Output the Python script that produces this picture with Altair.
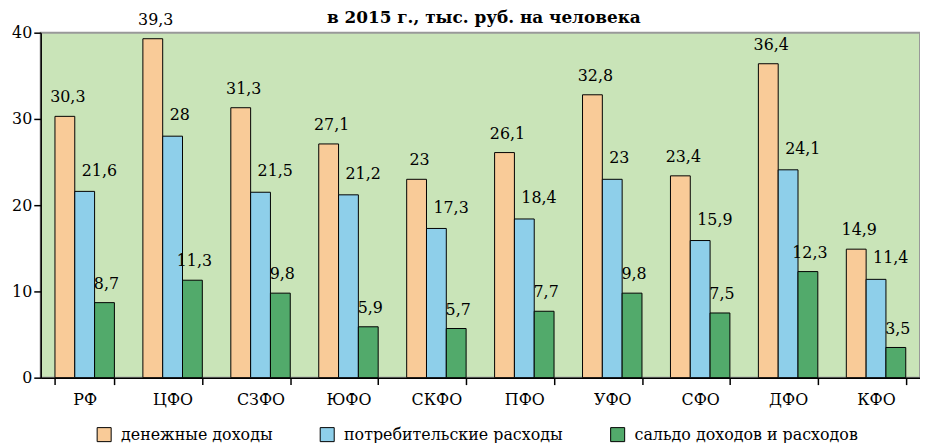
import altair as alt
import pandas as pd

regions = ["РФ", "ЦФО", "СЗФО", "ЮФО", "СКФО", "ПФО", "УФО", "СФО", "ДФО", "КФО"]
income = [30.3, 39.3, 31.3, 27.1, 23.0, 26.1, 32.8, 23.4, 36.4, 14.9]
spending = [21.6, 28.0, 21.5, 21.2, 17.3, 18.4, 23.0, 15.9, 24.1, 11.4]
balance = [8.7, 11.3, 9.8, 5.9, 5.7, 7.7, 9.8, 7.5, 12.3, 3.5]
series = ["денежные доходы", "потребительские расходы", "сальдо доходов и расходов"]
colors = ["#F9CB98", "#8ECFEA", "#52AA6B"]
title_text = "в 2015 г., тыс. руб. на человека"
y_ticks = [0, 10, 20, 30, 40]

rows = []
for i, r in enumerate(regions):
    for s, vals in zip(series, [income, spending, balance]):
        v = vals[i]
        rows.append({"region": r, "series": s, "value": v,
                     "label": f"{v:g}".replace(".", ",")})
df = pd.DataFrame(rows)

FONT = "DejaVu Serif"
FS = 16
W, H = 887, 348

x = alt.X("region:N", sort=regions,
          scale=alt.Scale(paddingInner=0.324, paddingOuter=0.162),
          axis=alt.Axis(title=None, labelAngle=0, tickBand="extent",
                        labelFont=FONT, labelFontSize=FS, labelColor="black",
                        labelPadding=7, tickSize=7, tickColor="black",
                        domainColor="black", domainWidth=1.5, tickWidth=1.5))
xoff = alt.XOffset("series:N", sort=series,
                   scale=alt.Scale(paddingInner=0, paddingOuter=0))
y = alt.Y("value:Q", scale=alt.Scale(domain=[0, 40], nice=False),
          axis=alt.Axis(title=None, values=y_ticks, grid=False,
                        labelFont=FONT, labelFontSize=FS, labelColor="black",
                        labelPadding=2, tickSize=7, tickColor="black",
                        domainColor="black", domainWidth=1.5, tickWidth=1.5))

base = alt.Chart(df)

bars = base.mark_bar(stroke="black", strokeWidth=1).encode(
    x=x, xOffset=xoff, y=y,
    color=alt.Color("series:N", sort=series,
                    scale=alt.Scale(domain=series, range=colors),
                    legend=alt.Legend(title=None, orient="none", legendX=56, legendY=397,
                                      direction="horizontal", columns=3,
                                      symbolType="square", symbolSize=200,
                                      symbolStrokeColor="black", symbolStrokeWidth=1,
                                      symbolOpacity=1, labelLimit=0,
                                      labelFont=FONT, labelFontSize=FS, labelColor="black",
                                      labelOffset=9, columnPadding=45))
)

def labels(idx, align, dx, dy):
    return base.transform_filter(alt.datum.series == series[idx]).mark_text(
        font=FONT, fontSize=FS, color="black", align=align, baseline="bottom",
        dx=dx, dy=dy
    ).encode(x=x, xOffset=xoff, y=y, text="label:N")

t1 = labels(0, "center", 3, -11)
t2 = labels(1, "left", -3, -13)
t3 = labels(2, "center", 2, -11)

title = alt.Chart(pd.DataFrame({"t": [title_text]})).mark_text(
    font=FONT, fontSize=17, fontWeight="bold", color="black",
    align="center", baseline="alphabetic"
).encode(x=alt.value(447), y=alt.value(-10), text="t:N")

chart = alt.layer(bars, t1, t2, t3, title).properties(
    width=W, height=H,
    autosize=alt.AutoSizeParams(type="none"),
    padding={"left": 33, "top": 23, "right": 0, "bottom": 64},
    background="white",
).configure_view(fill="#C9E4B8", stroke="#999999", strokeWidth=2)

chart.save("out.html", embed_options={"renderer": "svg", "actions": False})
